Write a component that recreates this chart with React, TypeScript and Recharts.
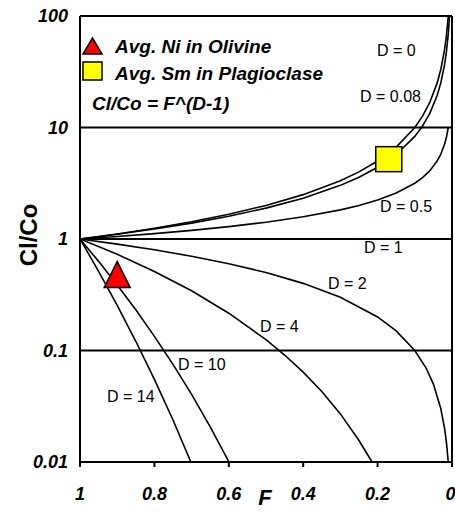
import React from "react";
import {
  ComposedChart,
  Line,
  Scatter,
  XAxis,
  YAxis,
  ReferenceLine,
} from "recharts";

// Cl/Co at each melt fraction F
const F_UPPER = [1, 0.9, 0.8, 0.7, 0.6, 0.5, 0.4, 0.3, 0.25, 0.2, 0.15, 0.1, 0.08, 0.06, 0.04, 0.03, 0.02, 0.015, 0.01];
const D_0 = [1, 1.11, 1.25, 1.43, 1.67, 2, 2.5, 3.33, 4, 5, 6.67, 10, 12.5, 16.7, 25, 33.3, 50, 66.7, 100];
const F_D008 = [1, 0.9, 0.8, 0.7, 0.6, 0.5, 0.4, 0.3, 0.25, 0.2, 0.15, 0.1, 0.08, 0.06, 0.04, 0.03, 0.02, 0.015, 0.01, 0.0067];
const D_008 = [1, 1.102, 1.228, 1.388, 1.6, 1.892, 2.323, 3.027, 3.58, 4.396, 5.727, 8.318, 10.21, 13.31, 19.33, 25.18, 36.56, 47.63, 69.18, 100];
const D_05 = [1, 1.054, 1.118, 1.195, 1.291, 1.414, 1.581, 1.826, 2, 2.236, 2.582, 3.162, 3.536, 4.082, 5, 5.774, 7.071, 8.165, 10];

const F_D1 = [1, 0];
const D_1 = [1, 1];

const F_D2 = [1, 0.9, 0.8, 0.7, 0.6, 0.5, 0.4, 0.3, 0.2, 0.15, 0.1, 0.07, 0.05, 0.03, 0.02, 0.015, 0.01];
const D_2 = [1, 0.9, 0.8, 0.7, 0.6, 0.5, 0.4, 0.3, 0.2, 0.15, 0.1, 0.07, 0.05, 0.03, 0.02, 0.015, 0.01];

const F_D4 = [1, 0.9, 0.8, 0.7, 0.6, 0.5, 0.45, 0.4, 0.35, 0.3, 0.25, 0.215];
const D_4 = [1, 0.729, 0.512, 0.343, 0.216, 0.125, 0.0911, 0.064, 0.0429, 0.027, 0.0156, 0.01];

const F_D10 = [1, 0.95, 0.9, 0.85, 0.8, 0.75, 0.7, 0.65, 0.6];
const D_10 = [1, 0.63, 0.387, 0.232, 0.134, 0.0751, 0.0404, 0.0207, 0.0101];

const F_D14 = [1, 0.95, 0.9, 0.85, 0.8, 0.75, 0.702];
const D_14 = [1, 0.513, 0.254, 0.121, 0.055, 0.0238, 0.01];

// measured samples
const NI_OLIVINE = { F: 0.9, y: 0.48 };
const SM_PLAG = { F: 0.17, y: 5.2 };

const X_TICKS = [1, 0.8, 0.6, 0.4, 0.2, 0];
const Y_TICKS = [0.01, 0.1, 1, 10, 100];
const GRID_Y = [10, 1, 0.1, 100];

const toPoints = (fs: number[], ys: number[]) => fs.map((F, i) => ({ F, y: ys[i] }));

const curves = [
  toPoints(F_UPPER, D_0),
  toPoints(F_D008, D_008),
  toPoints(F_UPPER, D_05),
  toPoints(F_D1, D_1),
  toPoints(F_D2, D_2),
  toPoints(F_D4, D_4),
  toPoints(F_D10, D_10),
  toPoints(F_D14, D_14),
];

const FONT = "'Liberation Sans', Arial, sans-serif";

const Triangle = (props: any) => {
  const { cx, cy } = props;
  return (
    <polygon
      points={`${cx},${cy - 13} ${cx - 13},${cy + 13} ${cx + 13},${cy + 13}`}
      fill="#ff0000"
      stroke="#000"
      strokeWidth={1.5}
    />
  );
};

const Square = (props: any) => {
  const { cx, cy } = props;
  return (
    <rect x={cx - 13} y={cy - 12.5} width={26} height={25} fill="#ffff00" stroke="#000" strokeWidth={1.5} />
  );
};

const fmt = (v: number) => String(v);

export default function App() {
  const tickStyle = { fill: "#000", fontSize: 18, fontWeight: "bold", fontStyle: "italic", fontFamily: FONT };
  return (
    <div style={{ position: "absolute", left: 0, top: 0, width: 455, height: 512, background: "#fff" }}>
      <ComposedChart width={455} height={512} margin={{ top: 16, right: 3, bottom: 20, left: 20 }}>
        <XAxis
          dataKey="F"
          type="number"
          domain={[0, 1]}
          reversed
          ticks={X_TICKS}
          tickFormatter={fmt}
          tick={tickStyle}
          tickSize={5}
          tickMargin={20}
          tickLine={{ stroke: "#000", strokeWidth: 2 }}
          axisLine={{ stroke: "#000", strokeWidth: 2 }}
          height={30}
          allowDataOverflow
        />
        <YAxis
          dataKey="y"
          type="number"
          scale="log"
          domain={[0.01, 100]}
          ticks={Y_TICKS}
          tickFormatter={fmt}
          tick={tickStyle}
          tickSize={0}
          tickMargin={12}
          tickLine={false}
          axisLine={{ stroke: "#000", strokeWidth: 2 }}
          width={60}
          allowDataOverflow
        />
        {GRID_Y.map((v) => (
          <ReferenceLine key={v} y={v} stroke="#000" strokeWidth={2} />
        ))}
        <ReferenceLine x={0} stroke="#000" strokeWidth={2} />
        {curves.map((pts, i) => (
          <Line
            key={i}
            data={pts}
            dataKey="y"
            type="linear"
            stroke="#000"
            strokeWidth={1.6}
            dot={false}
            activeDot={false}
            isAnimationActive={false}
          />
        ))}
        <Scatter data={[NI_OLIVINE]} dataKey="y" shape={Triangle} isAnimationActive={false} />
        <Scatter data={[SM_PLAG]} dataKey="y" shape={Square} isAnimationActive={false} />
      </ComposedChart>
      <svg
        width={455}
        height={512}
        style={{ position: "absolute", left: 0, top: 0, pointerEvents: "none" }}
        fontFamily={FONT}
      >
        <polygon points="92.5,38 83,54 102,54" fill="#ff0000" stroke="#000" strokeWidth={1.5} />
        <rect x={83} y={62} width={19} height={18} fill="#ffff00" stroke="#000" strokeWidth={1.5} />
        <g fontSize={19} fontWeight="bold" fontStyle="italic" fill="#000">
          <text x={115} y={53}>Avg. Ni in Olivine</text>
          <text x={115} y={80}>Avg. Sm in Plagioclase</text>
          <text x={92} y={110}>Cl/Co = F^(D-1)</text>
        </g>
        <g fontSize={16} fill="#000">
          <text x={377} y={56}>D = 0</text>
          <text x={360} y={102}>D = 0.08</text>
          <text x={380} y={212}>D = 0.5</text>
          <text x={364} y={253}>D = 1</text>
          <text x={328} y={289}>D = 2</text>
          <text x={260} y={332}>D = 4</text>
          <text x={178} y={370}>D = 10</text>
          <text x={107} y={402}>D = 14</text>
        </g>
        <text x={265} y={505} fontSize={22} fontWeight="bold" fontStyle="italic" textAnchor="middle" fill="#000">
          F
        </text>
        <text
          x={37}
          y={235}
          fontSize={24}
          fontWeight="bold"
          textAnchor="middle"
          fill="#000"
          transform="rotate(-90 37 235)"
        >
          Cl/Co
        </text>
      </svg>
    </div>
  );
}
